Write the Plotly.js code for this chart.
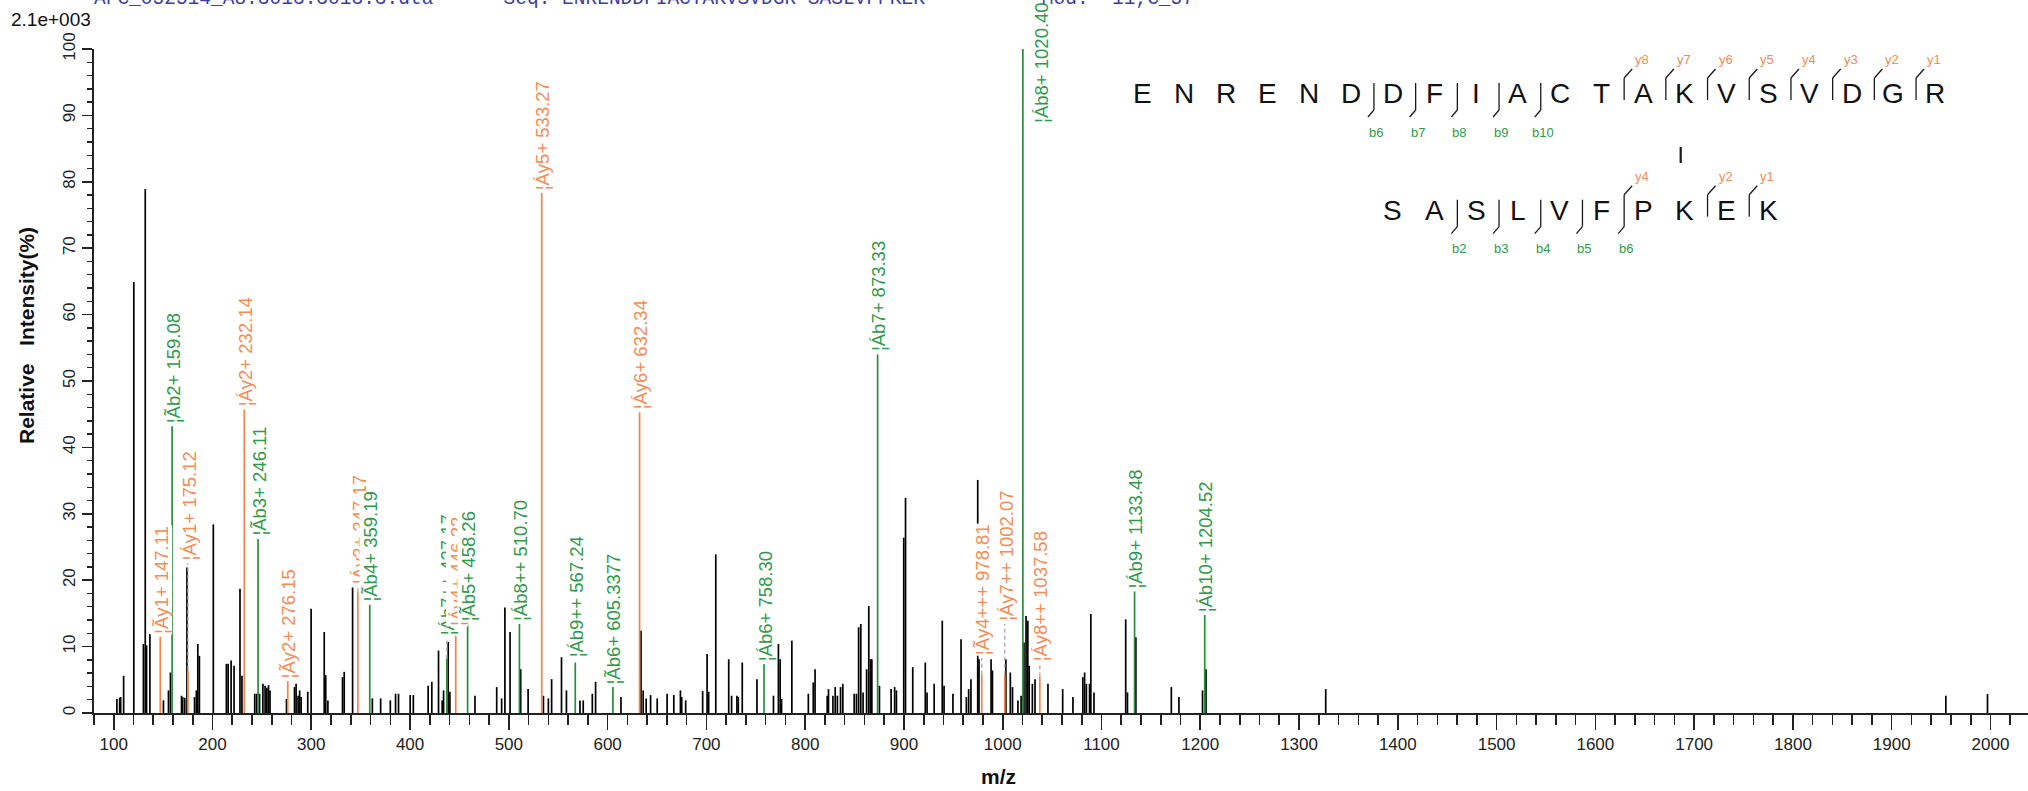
<!DOCTYPE html>
<html><head><meta charset="utf-8">
<script src="https://cdn.plot.ly/plotly-3.0.1.min.js"></script>
<style>html,body{margin:0;padding:0;background:#fff;}#chart{width:2028px;height:791px;}</style>
</head><body><div id="chart"></div>
<script>
// ---------- data ----------
const peakMz = [103.2,106.0,107.0,110.0,120.3,130.0,131.9,133.2,136.6,150.3,155.4,157.4,168.6,169.8,171.9,174.1,181.8,183.6,185.1,186.7,200.8,214.0,215.8,218.8,221.8,227.8,229.8,242.7,244.6,247.6,251.0,253.2,255.0,256.7,258.2,274.9,283.0,284.6,286.6,288.2,289.7,296.4,299.8,313.1,314.6,316.8,331.6,333.3,341.8,361.8,370.2,380.0,385.3,388.3,400.1,403.3,418.3,422.0,428.8,432.5,433.9,438.6,440.3,465.7,487.7,492.7,496.0,501.2,512.0,519.5,535.0,540.0,543.3,553.3,558.3,572.0,575.3,584.5,587.8,613.5,633.8,636.0,639.0,643.5,650.2,660.2,667.0,673.7,675.0,679.0,696.2,700.7,702.3,709.5,722.6,725.5,730.9,732.3,736.3,751.2,767.9,772.9,774.7,776.1,786.5,803.2,808.2,810.0,822.3,823.6,828.1,830.4,832.6,835.8,838.1,849.6,851.9,854.1,856.3,858.6,862.2,864.4,866.2,867.5,875.2,887.0,890.6,892.4,899.8,901.6,908.9,921.6,923.4,930.6,938.8,940.6,949.6,957.8,963.2,965.5,967.8,974.7,976.0,988.2,989.6,1003.2,1007.7,1009.9,1015.4,1018.6,1021.5,1023.6,1025.4,1026.8,1030.0,1032.7,1045.8,1060.7,1071.1,1081.1,1082.9,1084.7,1087.9,1089.2,1092.4,1124.5,1126.3,1134.8,1170.7,1178.4,1202.3,1205.8,1327.0,1954.8,1997.0];
const peakInt = [2.1,2.3,2.4,5.6,64.9,10.4,78.9,10.2,11.9,1.9,3.4,6.1,2.6,2.4,2.3,21.9,2.4,3.4,10.4,8.6,28.4,7.4,7.4,7.9,7.1,18.7,5.6,2.9,2.9,2.9,4.4,4.1,3.8,4.2,3.4,2.1,3.9,4.4,2.6,3.4,2.4,3.2,15.7,12.2,5.7,1.9,5.4,6.2,18.9,2.2,2.2,1.9,2.9,2.9,2.7,2.7,4.1,4.7,9.4,1.9,3.4,10.7,3.2,2.6,3.9,2.2,15.9,12.2,6.6,3.6,2.6,2.2,5.1,8.4,3.4,1.9,1.9,2.9,4.7,2.4,12.4,3.4,2.2,2.7,2.2,2.9,2.7,3.4,2.4,1.9,3.3,8.9,3.2,23.9,8.1,2.6,2.6,2.4,7.6,5.1,2.6,10.4,8.1,2.1,10.9,2.9,4.6,6.6,2.6,3.6,2.6,3.9,2.6,3.9,4.4,2.9,2.9,12.9,13.4,3.1,6.6,16.1,8.1,8.1,4.1,3.6,3.9,3.4,26.4,32.4,6.9,7.6,3.1,4.4,13.9,4.1,2.9,11.1,2.4,3.6,5.1,35.1,8.1,8.1,6.4,8.1,6.1,3.9,1.9,2.6,10.6,14.6,13.9,7.1,4.4,5.1,4.4,3.6,2.4,5.4,6.1,4.4,4.4,14.9,3.1,14.1,3.1,11.4,3.9,2.4,3.4,6.6,3.6,2.6,2.85];

const ionMz = [147.11,159.08,175.12,232.14,246.11,276.15,347.17,359.19,437.17,446.22,458.26,510.70,533.27,567.24,605.3377,632.34,758.30,873.33,978.81,1002.07,1020.40,1037.58,1133.48,1204.52];
const ionInt = [11.5,43.2,6.5,45.7,26.2,4.8,18.2,16.3,8.2,12.7,13.3,13.4,78.3,7.6,3.9,45.3,7.35,54.0,5.75,5.75,100,5.5,18.3,14.75];
const ionType = ['y','b','y','y','b','y','y','b','b','y','b','b','y','b','b','y','b','b','y','y','b','y','b','b'];
const ionText = ['¦Ãy1+ 147.11','¦Ãb2+ 159.08','¦Áy1+ 175.12','¦Áy2+ 232.14','¦Ãb3+ 246.11','¦Ãy2+ 276.15','¦Áy3+ 347.17','¦Ãb4+ 359.19','¦Áb7++ 437.17','¦Áy4+ 446.22','¦Ãb5+ 458.26','¦Áb8++ 510.70','¦Áy5+ 533.27','¦Áb9++ 567.24','¦Ãb6+ 605.3377','¦Áy6+ 632.34','¦Áb6+ 758.30','¦Áb7+ 873.33','¦Ãy4+++ 978.81','¦Áy7++ 1002.07','¦Áb8+ 1020.40','¦Áy8++ 1037.58','¦Áb9+ 1133.48','¦Áb10+ 1204.52'];
const ionLabelAt = [11.5,43.2,22.6,45.7,26.2,4.8,19.0,16.3,11.3,12.7,13.3,13.4,78.3,7.9,3.9,45.3,7.35,54.0,8.3,13.4,88.4,7.3,18.3,14.75];

const xTickVals = [100,200,300,400,500,600,700,800,900,1000,1100,1200,1300,1400,1500,1600,1700,1800,1900,2000];
const yTickVals = [0,10,20,30,40,50,60,70,80,90,100];

const headerText = 'AFC_052514_A8.3013.3013.3.dta      Seq: ENRENDDFIACTAKVSVDGR-SASLVFPKEK          Mod:  11,C_57';
const scaleText = '2.1e+003';
const xTitle = 'm/z';
const yTitle = 'Relative\u00a0\u00a0\u00a0Intensity(%)';

const alphaSeq = 'ENRENDDFIACTAKVSVDGR'.split('');
const betaSeq = 'SASLVFPKEK'.split('');
const alphaB = [6,7,8,9,10];
const alphaY = [1,2,3,4,5,6,7,8];
const betaB = [2,3,4,5,6];
const betaY = [1,2,4];
const linkAlpha = 13, linkBeta = 7;

// ---------- styles / geometry ----------
const W = 2028, H = 791;
const M = {l: 94, r: 0, t: 49, b: 78};
const PW = W - M.l - M.r, PH = H - M.t - M.b;
const px = v => (v - M.l) / PW;
const py = v => (H - M.b - v) / PH;
const GREEN = '#23903c', ORANGE = '#f5834b';
const GREEN_T = '#2f9a48', ORANGE_T = '#f78a52';
const AX = '#222';

function stems(xs, ys) {
  const X = [], Y = [];
  xs.forEach((x, i) => { X.push(x, x, null); Y.push(0, ys[i], null); });
  return {X, Y};
}
const traces = [];
const blk = stems(peakMz, peakInt);
traces.push({x: blk.X, y: blk.Y, mode: 'lines', line: {color: '#000', width: 1.7}, hoverinfo: 'skip'});
['b', 'y'].forEach(t => {
  const xs = [], ys = [];
  ionMz.forEach((m, i) => { if (ionType[i] === t) { xs.push(m); ys.push(ionInt[i]); } });
  const s = stems(xs, ys);
  traces.push({x: s.X, y: s.Y, mode: 'lines', line: {color: t === 'b' ? GREEN : ORANGE, width: 1.7}, hoverinfo: 'skip'});
});
// connectors
const cX = [], cY = [];
ionMz.forEach((m, i) => {
  if (ionLabelAt[i] > ionInt[i] + 0.5) { cX.push(m, m, null); cY.push(ionInt[i], ionLabelAt[i], null); }
});
traces.push({x: cX, y: cY, mode: 'lines', line: {color: '#aaaaaa', width: 1.3, dash: '4px,3px'}, hoverinfo: 'skip'});

const ann = [];
ionMz.forEach((m, i) => {
  const beside = ionLabelAt[i] < ionInt[i];
  ann.push({
    x: m, y: ionLabelAt[i], xref: 'x', yref: 'y', text: ionText[i], textangle: -90,
    showarrow: false, xanchor: beside ? 'left' : 'center', yanchor: 'bottom',
    xshift: beside ? 7 : 1, yshift: 2,
    font: {family: 'Arial', size: 18.5, color: ionType[i] === 'b' ? GREEN_T : ORANGE_T},
    bgcolor: 'white', borderpad: 0
  });
});

// header, scale, titles
ann.push({xref: 'paper', yref: 'paper', x: px(92), y: py(12), xanchor: 'left', yanchor: 'bottom', showarrow: false,
  text: headerText.replace(/ /g, '\u00a0'), font: {family: 'Liberation Mono, Courier New, monospace', size: 19.5, color: '#3d3da8'}});
ann.push({xref: 'paper', yref: 'paper', x: px(9), y: py(19), xanchor: 'left', yanchor: 'middle', showarrow: false,
  text: scaleText, font: {family: 'Arial', size: 19, color: '#111'}});
ann.push({xref: 'paper', yref: 'paper', x: px(998), y: py(776), xanchor: 'center', yanchor: 'middle', showarrow: false,
  text: xTitle, font: {family: 'Arial', size: 21, weight: 'bold', color: '#111'}});
ann.push({xref: 'paper', yref: 'paper', x: px(26), y: py(336), xanchor: 'center', yanchor: 'middle', showarrow: false, textangle: -90,
  text: yTitle, font: {family: 'Arial', size: 21, weight: 'bold', color: '#111'}});

// sequence diagram
const SX0 = 1142.6, SDX = 41.7, ROW1 = 94, ROW2 = 210.7;
const letterX = i => SX0 + SDX * i;
const shapes = [];
function seg(x0, y0, x1, y1, w) {
  shapes.push({type: 'line', xref: 'paper', yref: 'paper', x0: px(x0), y0: py(y0), x1: px(x1), y1: py(y1),
    line: {color: '#1a1a1a', width: w || 1.3}});
}
function drawRow(seq, offset, cy, bList, yList) {
  seq.forEach((ch, i) => ann.push({xref: 'paper', yref: 'paper', x: px(letterX(i + offset)), y: py(cy),
    xanchor: 'center', yanchor: 'middle', showarrow: false, text: ch,
    font: {family: 'Arial', size: 28, color: '#111'}}));
  const bnd = {};
  bList.forEach(n => { const k = n - 1; (bnd[k] = bnd[k] || {}).b = n; });
  yList.forEach(n => { const k = seq.length - n - 1; (bnd[k] = bnd[k] || {}).y = n; });
  Object.keys(bnd).forEach(k => {
    const bx = letterX(+k + offset) + SDX / 2 + 2;
    const o = bnd[k];
    const top = o.y ? cy - 16 : cy - 11;
    const bot = o.b ? cy + 16 : cy + 6;
    seg(bx, top, bx, bot);
    if (o.y) {
      seg(bx, cy - 16, bx + 8, cy - 25);
      ann.push({xref: 'paper', yref: 'paper', x: px(bx + 18), y: py(cy - 34), xanchor: 'center', yanchor: 'middle',
        showarrow: false, text: 'y' + o.y, font: {family: 'Arial', size: 13, color: ORANGE_T}});
    }
    if (o.b) {
      seg(bx, cy + 16, bx - 6, cy + 23);
      ann.push({xref: 'paper', yref: 'paper', x: px(bx + 2), y: py(cy + 38), xanchor: 'center', yanchor: 'middle',
        showarrow: false, text: 'b' + o.b, font: {family: 'Arial', size: 13, color: GREEN_T}});
    }
  });
}
drawRow(alphaSeq, 0, ROW1, alphaB, alphaY);
drawRow(betaSeq, linkAlpha - linkBeta, ROW2, betaB, betaY);
const linkX = letterX(linkAlpha) - 4;
seg(linkX, 147, linkX, 163, 2.2);

const tickFont = {family: 'Arial', size: 17, color: AX};
const layout = {
  width: W, height: H, margin: M, paper_bgcolor: '#fff', plot_bgcolor: '#fff', showlegend: false,
  xaxis: {range: [80, 2038], tickmode: 'array', tickvals: xTickVals, ticktext: xTickVals.map(String),
    ticks: 'outside', ticklen: 15, tickwidth: 1.6, tickcolor: AX, showline: true, linecolor: AX, linewidth: 2,
    showgrid: false, zeroline: false, tickfont: tickFont, automargin: false,
    minor: {dtick: 20, tick0: 0, ticks: 'outside', ticklen: 10, tickwidth: 1.6, tickcolor: AX, showgrid: false}},
  yaxis: {range: [0, 100], tickmode: 'array', tickvals: yTickVals, ticktext: yTickVals.map(String),
    ticks: 'outside', ticklen: 10, tickwidth: 1.6, tickcolor: AX, tickangle: -90, showline: true, linecolor: AX, linewidth: 2,
    showgrid: false, zeroline: false, tickfont: tickFont, automargin: false,
    minor: {dtick: 2, tick0: 0, ticks: 'outside', ticklen: 5, tickwidth: 1.4, tickcolor: AX, showgrid: false}},
  annotations: ann, shapes: shapes
};
Plotly.newPlot('chart', traces, layout, {staticPlot: true, displayModeBar: false});
</script>
</body></html>
